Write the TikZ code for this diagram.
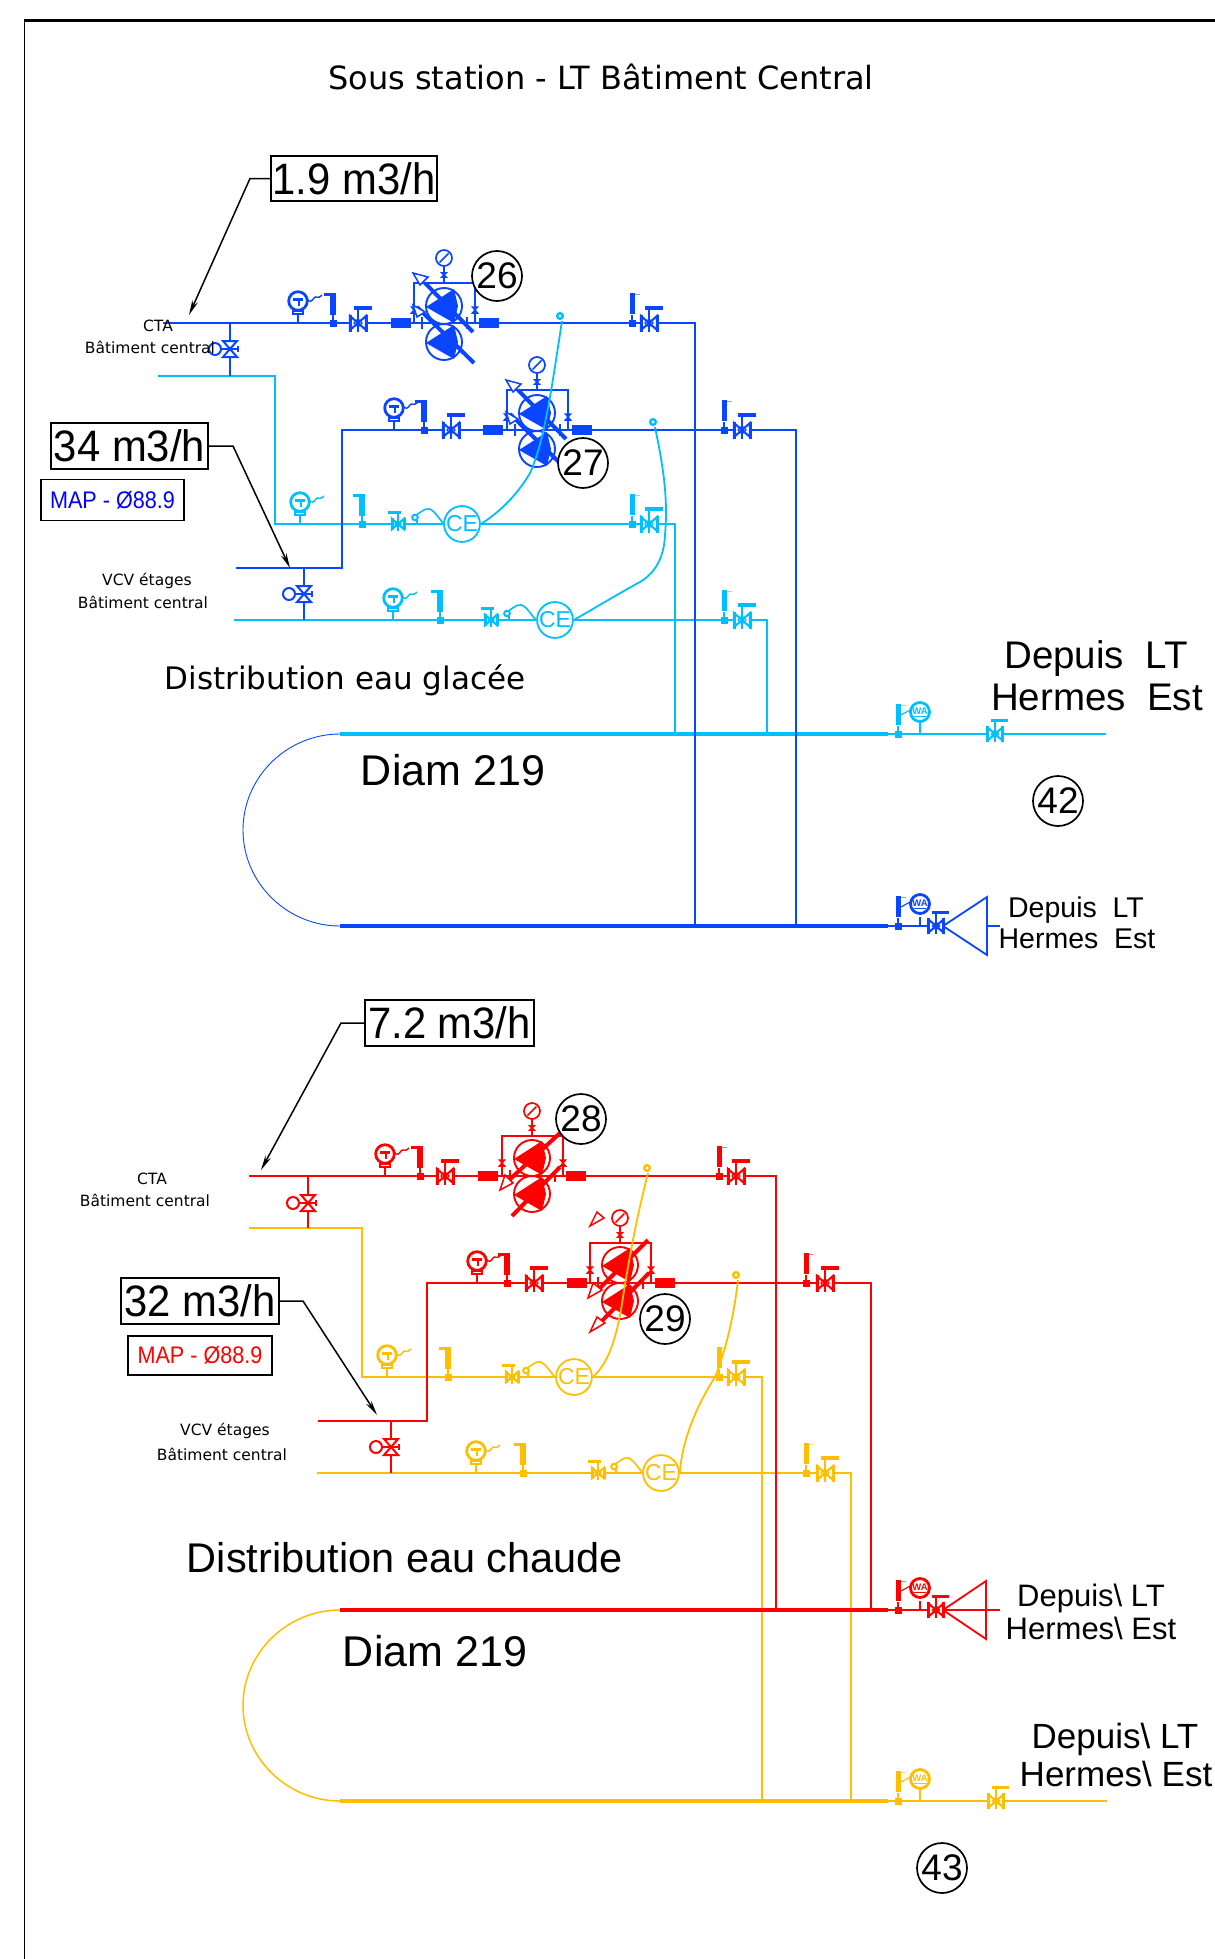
\documentclass[tikz,border=0pt]{standalone}
\usepackage{fontspec}
\setmainfont{Liberation Sans}
\newfontfamily\djvfont{DejaVu Sans}
\usetikzlibrary{arrows.meta}
\definecolor{pblue}{HTML}{0A46FF}
\definecolor{pcyan}{HTML}{00BFFF}
\definecolor{pred}{HTML}{FF0000}
\definecolor{pyel}{HTML}{FFBF00}
\newcommand{\fsz}[1]{\fontsize{#1}{#1}\selectfont}
\newcommand{\nar}[1]{\scalebox{.95}[1]{#1}}
\newcommand{\narr}[1]{\scalebox{.9}[1]{#1}}
\tikzset{
  pipe/.style={line width=1.8},
  mainpipe/.style={line width=4.2},
  thinarc/.style={line width=.9},
  valbox/.style={draw=black,line width=1.9,inner sep=0,fill=white,text=black},
  tagcirc/.style={circle,draw=black,line width=1.7,fill=white,minimum size=50,inner sep=0,text=black,font=\fsz{37}},
  lead/.style={draw=black,line width=1.5,-{Stealth[length=15,width=6]}},
  djv/.style={inner sep=0,text=black,align=center},
  ar/.style={inner sep=0,text=black},
  ceC/.style={circle,draw=#1,text=#1,line width=1.8,fill=white,minimum size=32,inner sep=0,font=\fsz{23}},
  diag/.style={line width=4},
  openhead/.style={draw,fill=white,line width=1.5,line join=miter}
}
% T gauge
\newcommand{\gaugeT}[3]{\begin{scope}[shift={(#1,#2)},color=#3]
 \draw[line width=1.5] (0,-11)--(0,0);
 \draw[line width=1.6,fill=white] (-5,-12)rectangle(5,-9);
 \draw[line width=2.8] (0,-22) circle (9.3);
 \draw[line width=2.3] (-5,-23.5)--(5,-23.5) (1,-23.5)--(1,-17);
 \draw[line width=1.4] (9,-24) .. controls (12,-20) and (14,-22) .. (16,-25) .. controls (18,-28) and (19,-23) .. (24,-28);
\end{scope}}
% flow indicator
\newcommand{\flowL}[3]{\begin{scope}[shift={(#1,#2)},color=#3]
 \draw[line width=1.4] (0,-8)--(0,0);
 \fill (-3.5,-3.5) rectangle (3.5,3.5);
 \fill (-2.8,-30) rectangle (3,-8);
 \fill (-9,-30) rectangle (3,-27);
\end{scope}}
\newcommand{\flowR}[3]{\begin{scope}[shift={(#1,#2)},color=#3]
 \draw[line width=1.4] (0,-8)--(0,0);
 \fill (-3.5,-3.5) rectangle (3.5,3.5);
 \fill (-2.5,-30) rectangle (2.5,-9);
 \draw[line width=.5,opacity=.5] (2.5,-29)--(8,-29);
\end{scope}}
% gate valve with handle
\newcommand{\valve}[4][]{\begin{scope}[shift={(#2,#3)},color=#4,#1]
 \draw[line width=2.1,fill=white] (-8,-7)--(8,7)--(8,-7)--(-8,7)--cycle;
 \draw[line width=3] (-8,-8.5)--(-8,8.5) (8,-8.5)--(8,8.5);
 \draw[line width=2] (0,-14)--(0,9);
 \draw[line width=1.3] (-4,0)--(0,-4)--(4,0)--(0,4)--cycle;
 \draw[line width=3.4] (-4,-15)--(14,-15);
\end{scope}}
% isolating valve on riser, with circle actuator
\newcommand{\riserv}[3]{\begin{scope}[shift={(#1,#2)},color=#3]
 \draw[line width=2,fill=white] (-7,-8)--(7,-8)--(-7,8)--(7,8)--cycle;
 \draw[line width=1.7] (-8.5,0)--(8.5,0);
 \draw[line width=2] (-15,0) circle (6);
 \draw[line width=2] (8,-3)--(8,3);
\end{scope}}
% bellows
\newcommand{\bellows}[3]{\foreach \q in {0,2,...,18} {\draw[color=#3,line width=1.6] ({#1+\q},{#2-5})--({#1+\q},{#2+5});}}
% sensor with capillary to CE meter
\newcommand{\sensor}[3]{\begin{scope}[shift={(#1,#2)},color=#3]
 \draw[line width=2] (0,-6.5) circle (2.8);
 \draw[line width=2] (2,-4)--(2,0);
 \draw[line width=1.6] (2,-9.5) .. controls (8,-13) and (12,-19) .. (19,-12) .. controls (23,-8) and (26,-3) .. (29,0);
\end{scope}}
\newcommand{\tapp}[3]{\begin{scope}[shift={(#1,#2)},color=#3]
 \draw[line width=2.4] (0,0) circle (2.8);
\end{scope}}
% WA gauge
\newcommand{\gaugeWA}[4]{\begin{scope}[shift={(#1,#2)},color=#3]
 \draw[line width=1.4] (0,#4)--(0,0);
 \draw[line width=2.8] (0,-22) circle (9.5);
 \node[inner sep=0,font=\fsz{9.5}\bfseries] at (0,-23) {WA};
 \draw[line width=1] (-6,-18)--(6,-18);
 \draw[line width=1.1] (-10,-24)--(-19,-19);
\end{scope}}
% pump station common parts
\newcommand{\pumpbase}[3]{\begin{scope}[shift={(#1,#2)},color=#3]
 \draw[line width=1.7] (-30,0)--(-30,-40)--(31,-40)--(31,0);
 \draw[line width=1.5] (0,-40)--(0,-57);
 \draw[line width=1.6] (-2,-50)--(2,-46)--(-2,-46)--(2,-50)--cycle;
 \draw[line width=1.7,fill=white] (0,-65) circle (8);
 \draw[line width=1.5] (-4.5,-60.5)--(4.5,-69.5);
 \foreach \s in {-30,31} {\draw[line width=1.5] (\s-2.5,-16)--(\s+2.5,-10)--(\s-2.5,-10)--(\s+2.5,-16)--cycle;}
 \draw[line width=2.4] (-22,-6)--(-22,6) (23,-6)--(23,6);
\end{scope}}
\newcommand{\pumpg}[3]{\begin{scope}[shift={(#1,#2)},color=#3]
 \draw[line width=1.9,fill=white] (0,0) circle (18);
 \fill (-18,1) -- (10,-17) -- (14,0) -- (10,17) -- cycle;
\end{scope}}
\newcommand{\pumpsBlue}[3]{\pumpbase{#1}{#2}{#3}
 \pumpg{#1}{#2+19}{#3}\pumpg{#1}{#2-17}{#3}
 \begin{scope}[shift={(#1,#2)},color=#3]
 \draw[diag] (-19,-40)--(29,9);
 \draw[diag] (-27,-16)--(30,40);
 \draw[openhead] (-31,-50)--(-16,-46)--(-24,-38)--cycle;
 \draw[openhead] (-31,-18)--(-19,-11)--(-27,-6)--cycle;
 \end{scope}}
\begin{document}
\begin{tikzpicture}[x=1pt,y=-1pt]
\path[fill=white] (0,0) rectangle (1215,1959);
\useasboundingbox (0,0) rectangle (1215,1959);
% frame
\draw[line width=1.6] (24.5,1959)--(24.5,20.5);
\draw[line width=2.4] (23.5,20.5)--(1215,20.5);
\node[djv,font=\djvfont\fsz{32}] (title) at (601,76.5) {Sous station - LT Bâtiment Central};

%% ---------- chilled water: coordinates
\coordinate (ctaL) at (163,323);
\coordinate (ctaJ) at (230,323);
\coordinate (ctaR) at (695,323);
\coordinate (ctaB) at (695,926);
\coordinate (ctaRL) at (158,376);
\coordinate (ctaRJ) at (230,376);
\coordinate (ctaRc) at (275,376);
\coordinate (ctaRd) at (275,524);
\coordinate (ctaRr) at (675,524);
\coordinate (ctaRm) at (675,734);
\coordinate (vcvL) at (236,568);
\coordinate (vcvJ) at (304,568);
\coordinate (vcvc) at (342,568);
\coordinate (vcvu) at (342,430);
\coordinate (vcvr) at (796,430);
\coordinate (vcvB) at (796,926);
\coordinate (vcvRL) at (234,620);
\coordinate (vcvRJ) at (304,620);
\coordinate (vcvRr) at (767,620);
\coordinate (vcvRm) at (767,734);
\coordinate (mcS) at (340,734);
\coordinate (mcE) at (888,734);
\coordinate (mcT) at (1106,734);
\coordinate (mbS) at (340,926);
\coordinate (mbE) at (888,926);
\coordinate (mbT) at (943,926);
\coordinate (tbA) at (987,897);
\coordinate (tbB) at (987,955);
\coordinate (tbS) at (987,926);
\coordinate (tbT) at (1000,926);

\begin{scope}[color=pcyan]
 \draw[pipe] (ctaRL)--(ctaRc)--(ctaRd)--(ctaRr)--(ctaRm);
 \draw[pipe] (vcvRL)--(vcvRr)--(vcvRm);
 \draw[mainpipe] (mcS)--(mcE);
 \draw[pipe] (mcE)--(mcT);
\end{scope}
\begin{scope}[color=pblue]
 \draw[pipe] (ctaL)--(ctaR)--(ctaB);
 \draw[pipe] (ctaJ)--(ctaRJ);
 \draw[pipe] (vcvL)--(vcvc)--(vcvu)--(vcvr)--(vcvB);
 \draw[pipe] (vcvJ)--(vcvRJ);
 \draw[thinarc] (mcS) .. controls (287,734) and (243,777) .. (243,830) .. controls (243,883) and (287,926) .. (mbS);
 \draw[mainpipe] (mbS)--(mbE);
 \draw[pipe] (mbE)--(mbT);
 \draw[pipe] (mbT)--(tbA)--(tbB)--cycle;
 \draw[pipe] (tbS)--(tbT);
\end{scope}
\riserv{230}{349}{pblue}
\riserv{304}{594}{pblue}
% blue instruments
\gaugeT{298}{323}{pblue}\flowL{333}{323}{pblue}\valve{358}{323}{pblue}
\flowR{632}{323}{pblue}\valve{649}{323}{pblue}
\gaugeT{394}{430}{pblue}\flowL{424}{430}{pblue}\valve{451}{430}{pblue}
\flowR{724}{430}{pblue}\valve{742}{430}{pblue}
\bellows{392}{323}{pblue}\bellows{480}{323}{pblue}
\bellows{484}{430}{pblue}\bellows{573}{430}{pblue}
\pumpsBlue{444}{323}{pblue}
\pumpsBlue{537}{430}{pblue}
% cyan instruments
\gaugeT{300}{524}{pcyan}\flowL{362}{524}{pcyan}\valve[xscale=-.75,yscale=.75]{398}{524}{pcyan}
\sensor{415}{524}{pcyan}
\flowR{632}{524}{pcyan}\valve{649}{524}{pcyan}
\gaugeT{393}{620}{pcyan}\flowL{440}{620}{pcyan}\valve[xscale=-.75,yscale=.75]{491}{620}{pcyan}
\sensor{507}{620}{pcyan}
\flowR{724}{620}{pcyan}\valve{742}{620}{pcyan}
\flowR{898}{734}{pcyan}\gaugeWA{920}{734}{pcyan}{-12}\valve[xscale=.9,yscale=.9]{995}{734}{pcyan}
\flowR{898}{926}{pblue}\gaugeWA{920}{926}{pblue}{-9}\valve[xscale=.9,yscale=.9]{936}{926}{pblue}
% cyan CE + capillaries
\node[ceC=pcyan] (ce1) at (462,524) {CE};
\node[ceC=pcyan] (ce2) at (555,620) {CE};
\coordinate (tap1) at (560,316);
\coordinate (tap2) at (653,422);
\begin{scope}[color=pcyan]
 \draw[line width=1.8] (ce1.east) .. controls (497,514) and (516,497) .. (530,473) .. controls (545,440) and (552,385) .. (562,321);
 \draw[line width=1.8] (ce2.east) .. controls (600,605) and (625,590) .. (640,582) .. controls (655,573) and (664,558) .. (665,535) .. controls (668,500) and (664,470) .. (655,427);
 \tapp{560}{316}{pcyan}
 \tapp{653}{422}{pcyan}
\end{scope}

%% ---------- hot water: coordinates
\coordinate (hctaL) at (249,1176);
\coordinate (hctaJ) at (308,1176);
\coordinate (hctaR) at (776,1176);
\coordinate (hctaB) at (776,1610);
\coordinate (hRL) at (249,1228);
\coordinate (hRJ) at (308,1228);
\coordinate (hRc) at (362,1228);
\coordinate (hRd) at (362,1377);
\coordinate (hRr) at (762,1377);
\coordinate (hRm) at (762,1801);
\coordinate (hvL) at (318,1421);
\coordinate (hvJ) at (391,1421);
\coordinate (hvc) at (427,1421);
\coordinate (hvu) at (427,1283);
\coordinate (hvr) at (871,1283);
\coordinate (hvB) at (871,1610);
\coordinate (hvRL) at (317,1473);
\coordinate (hvRJ) at (391,1473);
\coordinate (hvRr) at (851,1473);
\coordinate (hvRm) at (851,1801);
\coordinate (mrS) at (340,1610);
\coordinate (mrE) at (888,1610);
\coordinate (mrT) at (943,1610);
\coordinate (trA) at (986,1581);
\coordinate (trB) at (986,1639);
\coordinate (trS) at (1000,1610);
\coordinate (myS) at (340,1801);
\coordinate (myE) at (888,1801);
\coordinate (myT) at (1107,1801);

\begin{scope}[color=pyel]
 \draw[pipe] (hRL)--(hRc)--(hRd)--(hRr)--(hRm);
 \draw[pipe] (hvRL)--(hvRr)--(hvRm);
 \draw[line width=1.5] (mrS) .. controls (287,1610) and (243,1653) .. (243,1705.5) .. controls (243,1758) and (287,1801) .. (myS);
 \draw[mainpipe] (myS)--(myE);
 \draw[pipe] (myE)--(myT);
\end{scope}
\begin{scope}[color=pred]
 \draw[pipe] (hctaL)--(hctaR)--(hctaB);
 \draw[pipe] (hctaJ)--(hRJ);
 \draw[pipe] (hvL)--(hvc)--(hvu)--(hvr)--(hvB);
 \draw[pipe] (hvJ)--(hvRJ);
 \draw[mainpipe] (mrS)--(mrE);
 \draw[pipe] (mrE)--(trS);
 \draw[pipe] (mrT)--(trA)--(trB)--cycle;
\end{scope}
\riserv{308}{1203}{pred}
\riserv{391}{1447}{pred}
\gaugeT{385}{1176}{pred}\flowL{420}{1176}{pred}\valve{445}{1176}{pred}
\flowR{719}{1176}{pred}\valve{736}{1176}{pred}
\gaugeT{477}{1283}{pred}\flowL{507}{1283}{pred}\valve{534}{1283}{pred}
\flowR{806}{1283}{pred}\valve{825}{1283}{pred}
\bellows{479}{1176}{pred}\bellows{567}{1176}{pred}
\bellows{568}{1283}{pred}\bellows{656}{1283}{pred}
% pumps 28
\pumpbase{532}{1176}{pred}
\pumpg{532}{1194}{pred}\pumpg{532}{1158}{pred}
\begin{scope}[shift={(532,1176)},color=pred]
 \draw[diag] (28,-43)--(-25,6);
 \draw[diag] (28,-9)--(-20,40);
 \draw[openhead] (-32,14)--(-19,7)--(-27,-1)--cycle;
\end{scope}
% pumps 29
\pumpbase{620}{1283}{pred}
\pumpg{620}{1301}{pred}\pumpg{620}{1265}{pred}
\begin{scope}[shift={(620,1283)},color=pred]
 \draw[diag] (28,-43)--(-22,7);
 \draw[diag] (29,-10)--(-25,45);
 \draw[openhead] (-32,15)--(-18,7)--(-27,0)--cycle;
 \draw[openhead] (-30,49)--(-15,40)--(-23,34)--cycle;
 \draw[openhead] (-30,-57)--(-16,-65)--(-23,-71)--cycle;
\end{scope}
% yellow instruments
\gaugeT{387}{1377}{pyel}\flowL{448}{1377}{pyel}\valve[xscale=-.75,yscale=.75]{512}{1377}{pyel}
\sensor{526}{1377}{pyel}
\flowR{719}{1377}{pyel}\valve{736}{1377}{pyel}
\gaugeT{476}{1473}{pyel}\flowL{523}{1473}{pyel}\valve[xscale=-.75,yscale=.75]{598}{1473}{pyel}
\sensor{614}{1473}{pyel}
\flowR{806}{1473}{pyel}\valve{825}{1473}{pyel}
\flowR{898}{1801}{pyel}\gaugeWA{920}{1801}{pyel}{-12}\valve[xscale=.9,yscale=.9]{996}{1801}{pyel}
\flowR{898}{1610}{pred}\gaugeWA{920}{1610}{pred}{-9}\valve[xscale=.9,yscale=.9]{936}{1610}{pred}
\node[ceC=pyel] (ce3) at (574,1377) {CE};
\node[ceC=pyel] (ce4) at (661,1473) {CE};
\begin{scope}[color=pyel]
 \draw[line width=1.8] (ce3.east) .. controls (606,1365) and (616,1345) .. (623,1297) .. controls (632,1240) and (640,1205) .. (648,1173);
 \draw[line width=1.8] (ce4.east) .. controls (682,1440) and (697,1405) .. (715,1377) .. controls (726,1350) and (734,1315) .. (738,1280);
 \tapp{647}{1168}{pyel}
 \tapp{736}{1275}{pyel}
\end{scope}

%% ---------- tags
\node[valbox,minimum width=166,minimum height=45,font=\fsz{44}] (f1) at (354,178.5) {\nar{1.9 m3/h}};
\node[valbox,minimum width=157,minimum height=46,font=\fsz{44}] (f2) at (129.5,446) {\nar{34 m3/h}};
\node[valbox,minimum width=143,minimum height=41,font=\fsz{24},text=blue] (m1) at (112.5,500) {\narr{MAP - Ø88.9}};
\node[valbox,minimum width=169,minimum height=46,font=\fsz{44}] (f3) at (449.5,1023) {\nar{7.2 m3/h}};
\node[valbox,minimum width=158,minimum height=46,font=\fsz{44}] (f4) at (200,1301) {\nar{32 m3/h}};
\node[valbox,minimum width=144,minimum height=39,font=\fsz{24},text=red] (m2) at (200,1355.5) {\narr{MAP - Ø88.9}};
\coordinate (f1k) at (250,178.5);
\coordinate (f1t) at (189,315);
\coordinate (f2k) at (233,446);
\coordinate (f2t) at (290,568);
\coordinate (f3k) at (341,1023);
\coordinate (f3t) at (261,1170);
\coordinate (f4k) at (303,1301);
\coordinate (f4t) at (377,1415);
\draw[lead] (f1.west)--(f1k)--(f1t);
\draw[lead] (f2.east)--(f2k)--(f2t);
\draw[lead] (f3.west)--(f3k)--(f3t);
\draw[lead] (f4.east)--(f4k)--(f4t);

\node[tagcirc] (n26) at (497,276) {26};
\node[tagcirc] (n27) at (583,463) {27};
\node[tagcirc] (n28) at (581,1119) {28};
\node[tagcirc] (n29) at (665,1319) {29};
\node[tagcirc] (n42) at (1058,801) {42};
\node[tagcirc] (n43) at (942,1868) {43};

%% ---------- labels
\node[djv,font=\djvfont\fsz{15.5}] (l1) at (158,326) {CTA};
\node[djv,font=\djvfont\fsz{15.5}] (l2) at (150,347) {Bâtiment central};
\node[djv,font=\djvfont\fsz{15.5}] (l3) at (147,581) {VCV étages};
\node[djv,font=\djvfont\fsz{15.5}] (l4) at (143,602) {Bâtiment central};
\node[djv,font=\djvfont\fsz{15.5}] (l5) at (152,1179) {CTA};
\node[djv,font=\djvfont\fsz{15.5}] (l6) at (145,1200) {Bâtiment central};
\node[djv,font=\djvfont\fsz{15.5}] (l7) at (225,1431) {VCV étages};
\node[djv,font=\djvfont\fsz{15.5}] (l8) at (222,1454) {Bâtiment central};
\node[djv,font=\djvfont\fsz{31}] (d1) at (345,680.5) {Distribution eau glacée};
\node[ar,font=\fsz{41.5}] (d2) at (405,1558) {Distribution eau chaude};
\node[ar,font=\fsz{43}] (d3) at (453,770) {Diam 219};
\node[ar,font=\fsz{43}] (d4) at (435,1651) {Diam 219};
\node[ar,font=\fsz{38.5}] (h1) at (1096,659) {Depuis\ \ LT};
\node[ar,font=\fsz{38.5}] (h2) at (1097,697) {Hermes\ \ Est};
\node[ar,font=\fsz{28.5}] (h3) at (1076,910) {Depuis\ \ LT};
\node[ar,font=\fsz{28.5}] (h4) at (1077,939) {Hermes\ \ Est};
\node[ar,font=\fsz{31}] (h5) at (1091,1598.5) {Depuis\textbackslash\ LT};
\node[ar,font=\fsz{31}] (h6) at (1091,1628) {Hermes\textbackslash\ Est};
\node[ar,font=\fsz{35}] (h7) at (1115,1739.5) {Depuis\textbackslash\ LT};
\node[ar,font=\fsz{35}] (h8) at (1116,1774) {Hermes\textbackslash\ Est};
\end{tikzpicture}
\end{document}
